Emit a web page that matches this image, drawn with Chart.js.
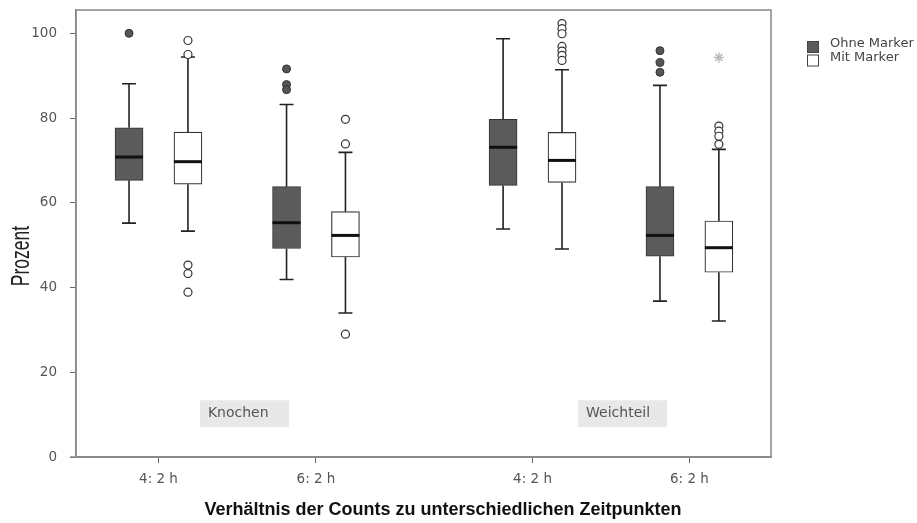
<!DOCTYPE html>
<html>
<head>
<meta charset="utf-8">
<script src="https://cdn.jsdelivr.net/npm/chart.js@4"></script>
<style>
  body { margin: 0; background: #fff; }
  canvas { display: block; }
</style>
</head>
<body>
<canvas id="myChart" width="917" height="523"></canvas>
<script>
// data
var categories = ['4: 2 h', '6: 2 h', '4: 2 h', '6: 2 h'];
var groups = ['Knochen', 'Weichteil'];
var seriesNames = ['Ohne Marker', 'Mit Marker'];
var xTitle = 'Verhältnis der Counts zu unterschiedlichen Zeitpunkten';
var yTitle = 'Prozent';

// Ohne Marker
var ohneMin = [55.2, 41.9, 53.8, 36.8];
var ohneQ1 = [65.3, 49.2, 64.1, 47.4];
var ohneMed = [70.8, 55.3, 73.1, 52.3];
var ohneQ3 = [77.7, 63.8, 79.7, 63.8];
var ohneMax = [88.1, 83.2, 98.7, 87.7];
var ohneOut = [[100], [91.6, 87.9, 86.7], [], [95.9, 93.1, 90.8]];

// Mit Marker
var mitMin = [53.3, 34.0, 49.1, 32.1];
var mitQ1 = [64.4, 47.2, 64.8, 43.6];
var mitMed = [69.7, 52.3, 70.0, 49.4];
var mitQ3 = [76.7, 57.9, 76.6, 55.7];
var mitMax = [94.4, 71.9, 91.4, 72.6];
var mitOut = [[98.3, 95.0, 45.3, 43.3, 38.9], [79.7, 73.9, 29.0], [102.3, 101.1, 99.9, 96.9, 95.8, 94.8, 93.6], [78.1, 76.9, 75.7, 73.8]];
var mitExtreme = [[], [], [], [94.3]];

var yTicks = [0, 20, 40, 60, 80, 100];

// layout of the category axis (two groups with a wider gap between them)
var catPos = [1, 2, 3.375, 4.371];
var off = 0.187;

function boxes(q1, q3, shift) {
    return catPos.map(function (p, i) { return { x: p + shift, y: [q1[i], q3[i]] }; });
}
function points(list, shift) {
    var out = [];
    list.forEach(function (vals, i) {
        vals.forEach(function (v) { out.push({ x: catPos[i] + shift, y: v }); });
    });
    return out;
}

var series = [
    { min: ohneMin, q1: ohneQ1, med: ohneMed, q3: ohneQ3, max: ohneMax, shift: -off },
    { min: mitMin, q1: mitQ1, med: mitMed, q3: mitQ3, max: mitMax, shift: off }
];

// whiskers, medians, frame, group labels, titles, legend
var boxPlugin = {
    id: 'boxExtras',
    beforeDatasetsDraw: function (chart) {
        var ctx = chart.ctx, x = chart.scales.x, y = chart.scales.y;
        ctx.save();
        // group labels
        ctx.font = '14px "DejaVu Sans", sans-serif';
        ctx.textBaseline = 'middle';
        [[1.263, 1.828], [3.664, 4.229]].forEach(function (r, g) {
            var l = x.getPixelForValue(r[0]), rr = x.getPixelForValue(r[1]);
            var t = y.getPixelForValue(13.4), b = y.getPixelForValue(7.1);
            ctx.fillStyle = '#e8e8e8';
            ctx.fillRect(l, t, rr - l, b - t);
            ctx.fillStyle = '#555';
            ctx.fillText(groups[g], l + 8, (t + b) / 2);
        });
        // whiskers
        ctx.strokeStyle = '#222';
        ctx.lineWidth = 1.6;
        series.forEach(function (s) {
            catPos.forEach(function (p, i) {
                var cx = x.getPixelForValue(p + s.shift);
                ctx.beginPath();
                ctx.moveTo(cx, y.getPixelForValue(s.q3[i]));
                ctx.lineTo(cx, y.getPixelForValue(s.max[i]));
                ctx.moveTo(cx, y.getPixelForValue(s.q1[i]));
                ctx.lineTo(cx, y.getPixelForValue(s.min[i]));
                ctx.moveTo(cx - 7, y.getPixelForValue(s.max[i]));
                ctx.lineTo(cx + 7, y.getPixelForValue(s.max[i]));
                ctx.moveTo(cx - 7, y.getPixelForValue(s.min[i]));
                ctx.lineTo(cx + 7, y.getPixelForValue(s.min[i]));
                ctx.stroke();
            });
        });
        ctx.restore();
    },
    afterDatasetsDraw: function (chart) {
        var ctx = chart.ctx, x = chart.scales.x, y = chart.scales.y, a = chart.chartArea;
        ctx.save();
        // medians
        ctx.strokeStyle = '#111';
        ctx.lineWidth = 3;
        series.forEach(function (s) {
            catPos.forEach(function (p, i) {
                var cx = x.getPixelForValue(p + s.shift);
                var my = y.getPixelForValue(s.med[i]);
                ctx.beginPath();
                ctx.moveTo(cx - 14, my);
                ctx.lineTo(cx + 14, my);
                ctx.stroke();
            });
        });
        // frame
        ctx.strokeStyle = '#888';
        ctx.lineWidth = 1.5;
        ctx.strokeRect(a.left, a.top, a.right - a.left, a.bottom - a.top);
        ctx.beginPath();
        ctx.moveTo(a.left - 6, a.bottom);
        ctx.lineTo(a.right, a.bottom);
        ctx.stroke();

        // axis titles
        ctx.textAlign = 'center';
        ctx.textBaseline = 'middle';
        ctx.fillStyle = '#111';
        ctx.font = 'bold 18px "Liberation Sans Narrow", "Liberation Sans", Arial';
        ctx.fillText(xTitle, 443, 510);
        ctx.save();
        ctx.translate(22, 256);
        ctx.rotate(-Math.PI / 2);
        ctx.scale(0.7, 1);
        ctx.fillStyle = '#222';
        ctx.font = '25px "Liberation Sans", Arial';
        ctx.fillText(yTitle, 0, 0);
        ctx.restore();

        // legend
        ctx.textAlign = 'left';
        ctx.font = '13px "DejaVu Sans", sans-serif';
        ctx.textBaseline = 'middle';
        var fills = ['#5b5b5b', '#ffffff'];
        seriesNames.forEach(function (name, k) {
            var ty = 41 + k * 13.5;
            ctx.fillStyle = fills[k];
            ctx.fillRect(807, ty, 12, 12);
            ctx.strokeStyle = '#444';
            ctx.lineWidth = 1;
            ctx.strokeRect(807.5, ty + 0.5, 11, 11);
            ctx.fillStyle = '#444';
            ctx.fillText(name, 830, ty + 3);
        });
        ctx.restore();
    }
};

var ctx = document.getElementById('myChart').getContext('2d');
var myChart = new Chart(ctx, {
    type: 'bar',
    data: {
        datasets: [{
            label: seriesNames[0],
            data: boxes(ohneQ1, ohneQ3, -off),
            backgroundColor: '#5b5b5b',
            borderColor: '#333',
            borderWidth: 1,
            borderSkipped: false,
            barThickness: 28,
            grouped: false
        }, {
            label: seriesNames[1],
            data: boxes(mitQ1, mitQ3, off),
            backgroundColor: '#ffffff',
            borderColor: '#333',
            borderWidth: 1.2,
            borderSkipped: false,
            barThickness: 28,
            grouped: false
        }, {
            type: 'scatter',
            label: 'Ausreißer Ohne',
            data: points(ohneOut, -off),
            pointRadius: 4,
            backgroundColor: '#555',
            borderColor: '#333',
            borderWidth: 1
        }, {
            type: 'scatter',
            label: 'Ausreißer Mit',
            data: points(mitOut, off),
            pointRadius: 4,
            backgroundColor: '#fff',
            borderColor: '#333',
            borderWidth: 1.2
        }, {
            type: 'scatter',
            label: 'Extrem Mit',
            data: points(mitExtreme, off),
            pointStyle: 'star',
            pointRadius: 5,
            backgroundColor: '#fff',
            borderColor: '#bbb',
            borderWidth: 1.5
        }]
    },
    options: {
        responsive: false,
        animation: false,
        devicePixelRatio: 1,
        layout: { padding: { top: 10, right: 146, left: 0, bottom: 0 } },
        plugins: {
            legend: { display: false },
            tooltip: { enabled: false }
        },
        scales: {
            x: {
                type: 'linear',
                min: 0.4762,
                max: 4.889,
                offset: false,
                afterFit: function (scale) {
                    scale.height = 66;
                    scale.paddingLeft = 0;
                    scale.paddingRight = 0;
                },
                afterBuildTicks: function (scale) {
                    scale.ticks = catPos.map(function (p) { return { value: p }; });
                },
                grid: { offset: false, drawOnChartArea: false, drawTicks: true, tickLength: 6, color: '#666' },
                border: { display: true, color: '#888', width: 1.5 },
                ticks: {
                    autoSkip: false,
                    maxRotation: 0,
                    padding: 8,
                    color: '#555',
                    font: { family: 'DejaVu Sans', size: 13.5 },
                    callback: function (v, i) { return categories[i]; }
                }
            },
            y: {
                min: 0,
                max: 105.5,
                afterFit: function (scale) {
                    scale.width = 76;
                    scale.paddingTop = 0;
                    scale.paddingBottom = 0;
                },
                afterBuildTicks: function (scale) {
                    scale.ticks = yTicks.map(function (v) { return { value: v }; });
                },
                grid: { drawOnChartArea: false, drawTicks: true, tickLength: 6, color: '#666' },
                border: { display: true, color: '#888', width: 1.5 },
                ticks: {
                    padding: 13,
                    color: '#555',
                    font: { family: 'DejaVu Sans', size: 13.5 }
                }
            }
        }
    },
    plugins: [boxPlugin]
});
</script>
</body>
</html>
